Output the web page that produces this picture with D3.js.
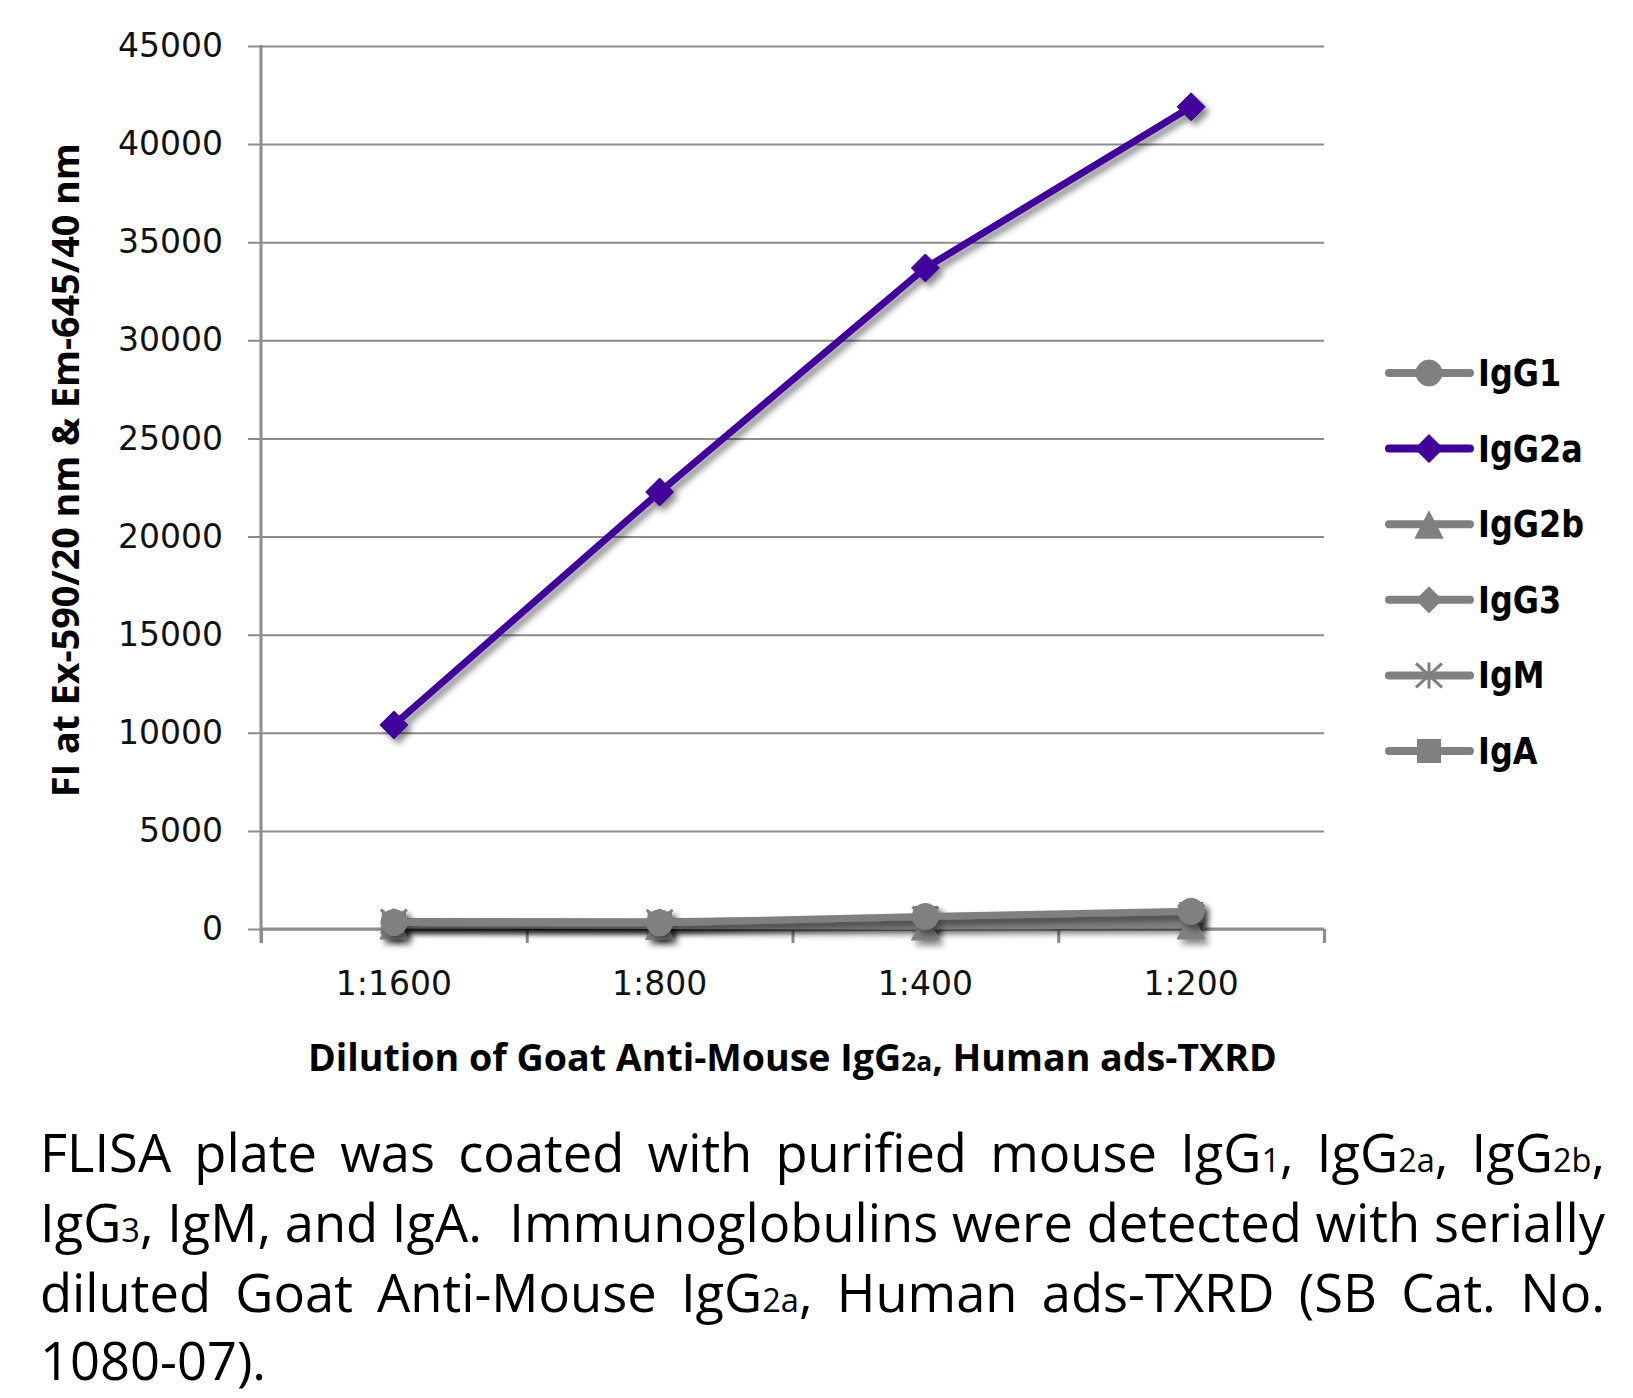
<!DOCTYPE html>
<html><head><meta charset="utf-8">
<script src="https://cdn.jsdelivr.net/npm/d3@7"></script>
<style>body{margin:0;background:#fff;} svg{display:block;}</style>
</head><body>
<svg id="chart" width="1633" height="1398"></svg>
<script>
// ---------- data ----------
const categories = ["1:1600", "1:800", "1:400", "1:200"];
const seriesNames = ["IgG1", "IgG2a", "IgG2b", "IgG3", "IgM", "IgA"];
const igG1 = [330, 320, 640, 900];
const igG2a = [10400, 22270, 33690, 41900];
const igG2b = [200, 180, 150, 200];
const igG3 = [250, 240, 380, 480];
const igM = [380, 370, 520, 620];
const igA = [280, 270, 560, 760];
const yTicks = [0, 5000, 10000, 15000, 20000, 25000, 30000, 35000, 40000, 45000];
const xTitle = "Dilution of Goat Anti-Mouse IgG{2a}, Human ads-TXRD";
const yTitle = "FI at Ex-590/20 nm & Em-645/40 nm";
const captionLines = [
  "FLISA plate was coated with purified mouse IgG{1}, IgG{2a}, IgG{2b},",
  "IgG{3}, IgM, and IgA.  Immunoglobulins were detected with serially",
  "diluted Goat Anti-Mouse IgG{2a}, Human ads-TXRD (SB Cat. No.",
  "1080-07)."
];

// ---------- layout ----------
const L = 261, R = 1324, T = 46, B = 929;
const svg = d3.select("#chart");
const GRAY = "#808080", PURPLE = "#400099", GRID = "#8c8c8c";

const x = d3.scaleBand().domain(categories).range([L, R]);
const xc = c => x(c) + x.bandwidth() / 2;
const y = d3.scaleLinear().domain([0, 45000]).range([B, T]);

// shadow filter
const defs = svg.append("defs");
const f = defs.append("filter").attr("id", "shadow").attr("filterUnits", "userSpaceOnUse")
  .attr("x", 0).attr("y", 0).attr("width", 1633).attr("height", 1398);
f.append("feDropShadow").attr("dx", 4).attr("dy", 5).attr("stdDeviation", 3)
  .attr("flood-color", "#000").attr("flood-opacity", 0.45);

// gridlines
const grid = svg.append("g").attr("transform", `translate(${L - 13},0)`)
  .call(d3.axisRight(y).tickValues(yTicks).tickSize(R - L + 13).tickFormat(""));
grid.select(".domain").remove();
grid.selectAll("line").attr("stroke", GRID).attr("stroke-width", 2);

// y axis labels
const yAx = svg.append("g").attr("transform", `translate(${L},0)`)
  .call(d3.axisLeft(y).tickValues(yTicks).tickSize(0).tickPadding(38).tickFormat(d3.format("d")));
yAx.select(".domain").remove();
yAx.selectAll("text").attr("font-family", "DejaVu Sans").attr("font-size", 33).attr("fill", "#111");

// x axis (category edge ticks)
const xEdge = d3.scaleLinear().domain([0, categories.length]).range([L, R]);
const xTk = svg.append("g").attr("transform", `translate(0,${B})`)
  .call(d3.axisBottom(xEdge).ticks(categories.length).tickSize(14).tickFormat(""));
xTk.select(".domain").attr("stroke", GRID).attr("stroke-width", 3).attr("d", `M${L},0H${R}`);
xTk.selectAll("line").attr("stroke", GRID).attr("stroke-width", 3);

const xAx = svg.append("g").attr("transform", `translate(0,${B})`)
  .call(d3.axisBottom(x).tickSize(0).tickPadding(0));
xAx.select(".domain").remove();
xAx.selectAll("text").attr("font-family", "DejaVu Sans").attr("font-size", 33).attr("fill", "#111")
  .attr("y", 66).attr("dy", 0);

// y axis line
svg.append("line").attr("x1", L).attr("x2", L).attr("y1", y(45000) - 1).attr("y2", B + 14)
  .attr("stroke", GRID).attr("stroke-width", 3);

// ---------- symbols ----------
const symbols = {
  circle: g => g.append("circle").attr("r", 13),
  diamond: g => g.append("path").attr("d", "M0,-14L14,0L0,14L-14,0Z"),
  triangle: g => g.append("path").attr("d", "M0,-13L14,14L-14,14Z"),
  diamondS: g => g.append("path").attr("d", "M0,-13L13,0L0,13L-13,0Z"),
  star: g => g.append("path").attr("d", "M0,-13V13M-13,-12L13,12M13,-12L-13,12")
    .attr("fill", "none").attr("stroke-width", 3),
  square: g => g.append("rect").attr("x", -11.5).attr("y", -11.5).attr("width", 23).attr("height", 23)
};
const seriesValues = [igG1, igG2a, igG2b, igG3, igM, igA];
const seriesColors = [GRAY, PURPLE, GRAY, GRAY, GRAY, GRAY];
const seriesSymbols = ["circle", "diamond", "triangle", "diamondS", "star", "square"];
const series = seriesNames.map((n, i) => ({ name: n, values: seriesValues[i], color: seriesColors[i], sym: seriesSymbols[i] }));

const drawOrder = [5, 4, 3, 2, 0, 1];
const line = d3.line().x((d, i) => xc(categories[i])).y(d => y(d));
drawOrder.forEach(i => {
  const s = series[i];
  const g = svg.append("g").attr("filter", "url(#shadow)");
  g.append("path").attr("d", line(s.values)).attr("fill", "none")
    .attr("stroke", s.color).attr("stroke-width", 7).attr("stroke-linejoin", "round");
  s.values.forEach((v, j) => {
    const m = g.append("g").attr("transform", `translate(${xc(categories[j])},${y(v)})`)
      .attr("fill", s.color).attr("stroke", s.color);
    symbols[s.sym](m);
  });
});

// ---------- rich text helper (each segment its own text element, natural widths) ----------
function parse(str) {
  return str.split(/(\{[^}]*\})/).filter(s => s.length).map(s =>
    s[0] === "{" ? { text: s.slice(1, -1), sub: true } : { text: s, sub: false });
}
function rich(parent, str, size, subScale, family, weight) {
  const segs = parse(str).map(seg => {
    const t = parent.append("text").attr("font-family", family).attr("font-weight", weight)
      .attr("font-size", seg.sub ? size * subScale : size).attr("fill", "#000")
      .style("white-space", "pre").text(seg.text);
    return { t, w: t.node().getComputedTextLength() };
  });
  return {
    width: d3.sum(segs, s => s.w),
    place(x0, y0) {
      let xx = x0;
      segs.forEach(s => { s.t.attr("x", xx).attr("y", y0); xx += s.w; });
    },
    remove() { segs.forEach(s => s.t.remove()); }
  };
}
function fitted(parent, str, size, subScale, family, weight, target) {
  const probe = rich(parent, str, size, subScale, family, weight);
  const k = target / probe.width;
  probe.remove();
  return rich(parent, str, size * k, subScale, family, weight);
}

// ---------- legend ----------
const lg = svg.append("g");
series.forEach((s, i) => {
  const cy = 373 + i * 75.6;
  const e = lg.append("g").attr("transform", `translate(0,${cy})`);
  e.append("line").attr("x1", 1389).attr("x2", 1470).attr("stroke", s.color)
    .attr("stroke-width", 8).attr("stroke-linecap", "round");
  const m = e.append("g").attr("transform", "translate(1429,0)").attr("fill", s.color).attr("stroke", s.color);
  symbols[s.sym](m);
  const t = e.append("text").attr("x", 1478).attr("y", 13).attr("font-family", "DejaVu Sans")
    .attr("font-weight", "bold").attr("font-size", 38).attr("fill", "#000").text(s.name);
  t.attr("textLength", t.node().getComputedTextLength() * 0.84).attr("lengthAdjust", "spacingAndGlyphs");
});

// axis titles
fitted(svg, xTitle, 39, 0.7, "Open Sans", "bold", 969).place(308, 1071);
{
  const g = svg.append("g").attr("transform", "translate(79,797) rotate(-90)");
  fitted(g, yTitle, 39, 0.7, "Open Sans", "bold", 654).place(0, 0);
}

// ---------- caption (justified) ----------
{
  const left = 40, width = 1565;
  const baselines = [1172, 1242, 1312, 1380];
  const cap = svg.append("g");
  const spaceW = sz => {
    const a = cap.append("text").attr("font-family", "Open Sans").attr("font-size", sz).style("white-space", "pre").text("n n");
    const b = cap.append("text").attr("font-family", "Open Sans").attr("font-size", sz).text("nn");
    const r = a.node().getComputedTextLength() - b.node().getComputedTextLength();
    a.remove(); b.remove(); return r;
  };
  const build = (sz) => captionLines.map(l => {
    const parts = l.split(/( +)/);
    const words = [], weights = [];
    parts.forEach((p, k) => {
      if (k % 2 === 0) words.push(rich(cap, p, sz, 0.62, "Open Sans", "normal"));
      else weights.push(p.length);
    });
    return { words, weights };
  });
  // size chosen so that line 2 fits the width with normal spacing
  let size = 56;
  let probe = build(size);
  const l2 = probe[1];
  const k = width / (d3.sum(l2.words, d => d.width) + d3.sum(l2.weights) * spaceW(size));
  probe.forEach(ln => ln.words.forEach(w => w.remove()));
  size = size * k;
  const sp = spaceW(size);
  const lines = build(size);
  lines.forEach((ln, li) => {
    const sum = d3.sum(ln.words, d => d.width);
    const justify = li < lines.length - 1;
    const unit = justify ? (width - sum) / d3.sum(ln.weights) : sp;
    let xx = left;
    ln.words.forEach((w, j) => {
      w.place(xx, baselines[li]);
      xx += w.width + (j < ln.weights.length ? ln.weights[j] * unit : 0);
    });
  });
}
</script>
</body></html>
